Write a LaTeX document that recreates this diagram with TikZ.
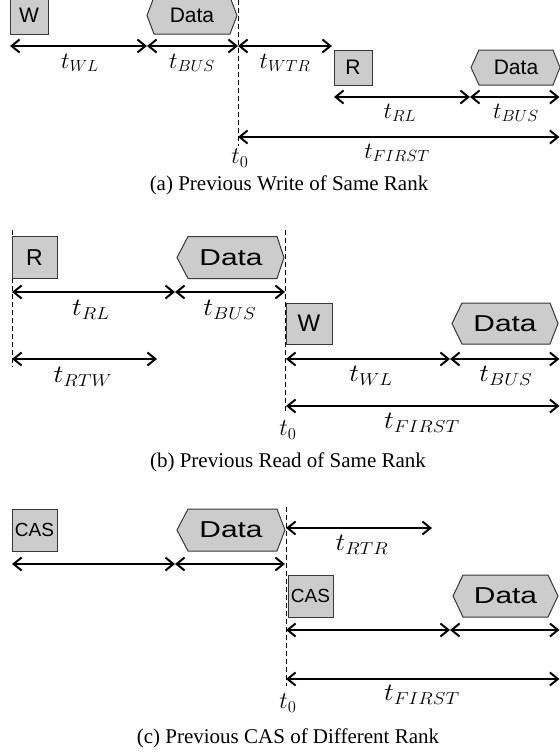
\documentclass[tikz,border=0pt]{standalone}
\usepackage[no-math]{fontspec}
\usepackage{graphicx}
\setmainfont{Liberation Serif}
\newfontfamily\boxfont{Liberation Sans}
\usetikzlibrary{arrows.meta}
\definecolor{boxfill}{gray}{0.80}
\definecolor{boxline}{gray}{0.22}
\tikzset{
  barb/.tip={Straight Barb[length=8pt,width=13pt,line width=2pt]},
  span/.style={line width=1.3pt, barb-barb},
  cmdbox/.style={draw=boxline, fill=boxfill, line width=1pt, inner sep=0pt},
  hexbox/.style={draw=boxline, fill=boxfill, line width=1pt, line join=miter},
  guide/.style={line width=0.9pt, dash pattern=on 5pt off 3pt},
  lbl/.style={inner sep=0pt, font=\fontsize{20}{24}\selectfont},
  captext/.style={inner sep=0pt, font=\fontsize{21}{25}\selectfont},
}
\newcommand{\widea}[1]{\scalebox{1.15}[1.12]{$#1$}}
\newcommand{\wideb}[1]{\scalebox{1.33}[1.2]{$#1$}}
\newcommand{\tzero}{\scalebox{1.15}{$t_0$}}
\begin{document}
\begin{tikzpicture}[x=1pt,y=-1pt]
\useasboundingbox (0,0) rectangle (560,753);

% ---------------- (a) previous write of same rank ----------------
\coordinate (a0top) at (238,0);
\coordinate (a0bot) at (238,146);
\draw[guide] (a0top) -- (a0bot);

\node[cmdbox, minimum width=38pt, minimum height=37pt,
      font=\boxfont\fontsize{21}{24}\selectfont] (aW) at (29,15.5) {W};
\filldraw[hexbox] (147,15.5) -- (154,-3) -- (230,-3) -- (237,15.5)
  -- (230,34) -- (154,34) -- cycle;
\node[font=\boxfont\fontsize{21}{24}\selectfont] (aD1) at (192,15.5) {Data};

\coordinate (a1) at (10,46);
\coordinate (a2) at (147,46);
\coordinate (a3) at (238,46);
\coordinate (a4) at (332,46);
\draw[span] (a1) -- (a2);
\draw[span] (a2) -- (a3);
\draw[span] (a3) -- (a4);
\node[lbl] (aWL) at (80,63) {\widea{t_{WL}}};
\node[lbl] (aBUS1) at (192,63) {\widea{t_{BUS}}};
\node[lbl] (aWTR) at (285,63) {\widea{t_{WTR}}};

\node[cmdbox, minimum width=38pt, minimum height=35pt,
      font=\boxfont\fontsize{21}{24}\selectfont] (aR) at (353,67.5) {R};
\filldraw[hexbox] (471,67.5) -- (479,50) -- (553,50) -- (560,67.5)
  -- (553,85) -- (479,85) -- cycle;
\node[font=\boxfont\fontsize{21}{24}\selectfont] (aD2) at (516,67.5) {Data};

\coordinate (a5) at (334,97);
\coordinate (a6) at (470,97);
\coordinate (a7) at (559.5,97);
\draw[span] (a5) -- (a6);
\draw[span] (a6) -- (a7);
\node[lbl] (aRL) at (400,113) {\widea{t_{RL}}};
\node[lbl] (aBUS2) at (516,113) {\widea{t_{BUS}}};

\coordinate (a8) at (238,137);
\coordinate (a9) at (559.5,137);
\draw[span] (a8) -- (a9);
\node[lbl] (aFIRST) at (397,153) {\widea{t_{FIRST}}};
\node[lbl] (aT0) at (240,158) {\tzero};

\node[captext] (capA) at (289,185) {(a) Previous Write of Same Rank};

% ---------------- (b) previous read of same rank ----------------
\coordinate (b0top) at (12,230);
\coordinate (b0bot) at (12,367);
\draw[guide] (b0top) -- (b0bot);
\coordinate (b1top) at (285,230);
\coordinate (b1bot) at (285,412);
\draw[guide] (b1top) -- (b1bot);

\node[cmdbox, minimum width=45pt, minimum height=42pt,
      font=\boxfont\fontsize{23}{26}\selectfont] (bR) at (34.5,257.5) {R};
\filldraw[hexbox] (177,257.5) -- (188,236.5) -- (277,236.5) -- (284,257.5)
  -- (277,278.5) -- (188,278.5) -- cycle;
\node[font=\boxfont\fontsize{23}{26}\selectfont] (bD1) at (231,257.5)
  {\scalebox{1.3}[1]{Data}};

\coordinate (b1) at (12,292);
\coordinate (b2) at (175,292);
\coordinate (b3) at (285,292);
\draw[span] (b1) -- (b2);
\draw[span] (b2) -- (b3);
\node[lbl] (bRL) at (91,310) {\wideb{t_{RL}}};
\node[lbl] (bBUS1) at (230,310) {\wideb{t_{BUS}}};

\coordinate (b4) at (12,359);
\coordinate (b5) at (157,359);
\draw[span] (b4) -- (b5);
\node[lbl] (bRTW) at (83,377) {\wideb{t_{RTW}}};

\node[cmdbox, minimum width=46pt, minimum height=41pt,
      font=\boxfont\fontsize{24}{27}\selectfont] (bW) at (309,323.5) {W};
\filldraw[hexbox] (452,323.5) -- (462,303) -- (550,303) -- (558,323.5)
  -- (550,344) -- (462,344) -- cycle;
\node[font=\boxfont\fontsize{23}{26}\selectfont] (bD2) at (505,323.5)
  {\scalebox{1.3}[1]{Data}};

\coordinate (b6) at (286,359);
\coordinate (b7) at (450,359);
\coordinate (b8) at (559.5,359);
\draw[span] (b6) -- (b7);
\draw[span] (b7) -- (b8);
\node[lbl] (bWL) at (371,376) {\wideb{t_{WL}}};
\node[lbl] (bBUS2) at (506,376) {\wideb{t_{BUS}}};

\coordinate (b9) at (286,406);
\coordinate (b10) at (559.5,406);
\draw[span] (b9) -- (b10);
\node[lbl] (bFIRST) at (422,423) {\wideb{t_{FIRST}}};
\node[lbl] (bT0) at (288,430) {\tzero};

\node[captext] (capB) at (288,462) {(b) Previous Read of Same Rank};

% ---------------- (c) previous CAS of different rank ----------------
\coordinate (c0top) at (286,507);
\coordinate (c0bot) at (286,686);
\draw[guide] (c0top) -- (c0bot);

\node[cmdbox, minimum width=45pt, minimum height=42pt,
      font=\boxfont\fontsize{19}{22}\selectfont] (cC1) at (34.5,530) {CAS};
\filldraw[hexbox] (177,530) -- (188,509) -- (277,509) -- (285,530)
  -- (277,551) -- (188,551) -- cycle;
\node[font=\boxfont\fontsize{23}{26}\selectfont] (cD1) at (231,530)
  {\scalebox{1.3}[1]{Data}};

\coordinate (c1) at (12,564);
\coordinate (c2) at (175,564);
\coordinate (c3) at (285,564);
\draw[span] (c1) -- (c2);
\draw[span] (c2) -- (c3);

\coordinate (c4) at (286,528);
\coordinate (c5) at (432,528);
\draw[span] (c4) -- (c5);
\node[lbl] (cRTR) at (362,545) {\wideb{t_{RTR}}};

\node[cmdbox, minimum width=45pt, minimum height=42pt,
      font=\boxfont\fontsize{19}{22}\selectfont] (cC2) at (310.5,596) {CAS};
\filldraw[hexbox] (453,596) -- (463,575) -- (548,575) -- (558,596)
  -- (548,617) -- (463,617) -- cycle;
\node[font=\boxfont\fontsize{23}{26}\selectfont] (cD2) at (505.5,596)
  {\scalebox{1.3}[1]{Data}};

\coordinate (c6) at (286,630);
\coordinate (c7) at (450,630);
\coordinate (c8) at (559.5,630);
\draw[span] (c6) -- (c7);
\draw[span] (c7) -- (c8);

\coordinate (c9) at (286,679);
\coordinate (c10) at (559.5,679);
\draw[span] (c9) -- (c10);
\node[lbl] (cFIRST) at (422,695) {\wideb{t_{FIRST}}};
\node[lbl] (cT0) at (288,703) {\tzero};

\node[captext] (capC) at (288,738) {(c) Previous CAS of Different Rank};
\end{tikzpicture}
\end{document}
